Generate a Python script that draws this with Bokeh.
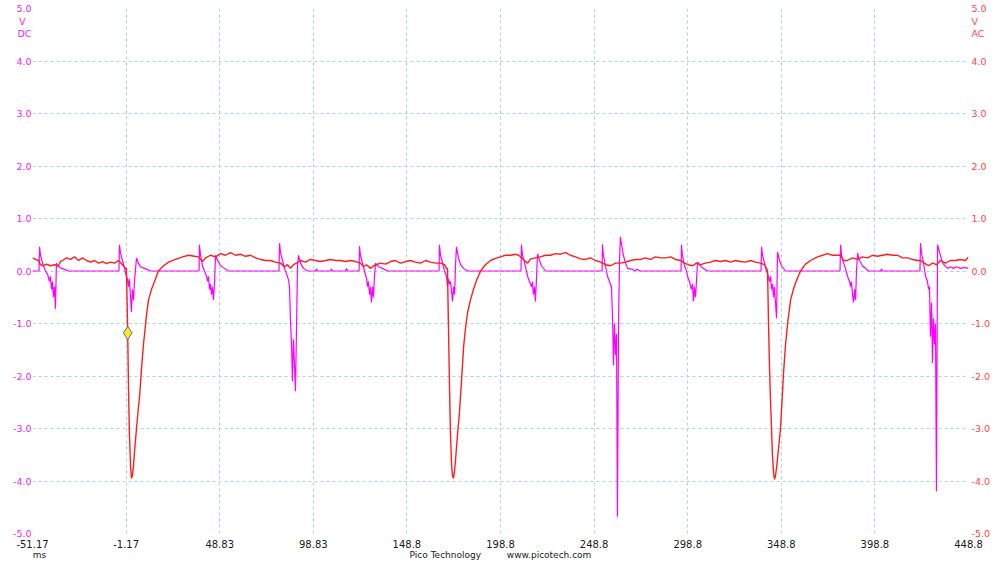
from bokeh.plotting import figure
from bokeh.models import Range1d, LinearAxis, FixedTicker, PrintfTickFormatter
from bokeh.embed import file_html
from bokeh.resources import INLINE

# ---------------- data (time in ms, voltage in V) ----------------
# Channel A (DC, magenta)
ch_a_time = [
    -51.17, -47.7, -47.4, -46.9, -45.8, -45.3, -44.2, -43.2, -42.1, -41.6, -41.0, -40.5, -40.0, -39.4, -38.9, -38.4, -37.8, -36.2, -34.1, -31.9,
    -5.0, -4.7, -4.2, -3.1, -2.0, -1.0, -0.4, 0.1, 0.6, 1.2, 1.7, 2.2, 2.8, 3.3, 4.4, 5.4, 6.5, 8.7, 11.9,
    37.8, 38.0, 38.6, 39.6, 40.7, 41.8, 42.3, 42.8, 43.4, 43.9, 44.4, 45.0, 45.5, 46.1, 46.6, 47.7, 49.3, 51.4, 53.5,
    80.5, 80.8, 81.3, 82.4, 83.4, 84.5, 85.6, 86.1, 86.6, 87.2, 87.7, 88.2, 88.8, 89.3, 89.9, 90.4, 90.9, 92.0, 93.6, 95.7, 100.0, 100.5, 101.1, 108.0, 108.6, 109.1, 116.0, 116.6, 117.1,
    123.3, 123.5, 124.0, 125.1, 126.2, 127.3, 127.8, 128.3, 128.9, 129.4, 129.9, 130.5, 131.0, 131.5, 132.1, 133.7, 135.8, 138.5,
    166.0, 166.2, 166.8, 167.9, 168.9, 170.0, 170.5, 171.0, 171.6, 172.1, 172.7, 173.2, 173.7, 174.3, 174.8, 175.3, 176.4, 177.5, 179.1, 181.2,
    209.8, 210.0, 210.6, 211.7, 212.7, 213.3, 214.3, 215.4, 215.9, 216.4, 217.0, 217.5, 218.1, 218.6, 219.7, 220.7, 222.9,
    253.1, 253.3, 253.8, 254.9, 256.0, 257.0, 258.1, 258.7, 259.2, 259.7, 260.3, 260.8, 261.3, 261.9, 262.4, 262.9, 263.5, 264.5, 265.6, 266.7, 269.4, 271.0, 271.5, 273.6, 275.2,
    295.3, 295.5, 296.0, 297.1, 298.2, 298.7, 299.8, 300.8, 301.4, 301.9, 302.4, 303.0, 303.5, 304.1, 305.1, 306.7, 309.4,
    338.0, 338.3, 338.8, 339.9, 340.9, 341.5, 342.5, 343.1, 343.6, 344.1, 344.7, 345.2, 345.7, 346.3, 346.8, 347.9, 348.9, 351.1,
    380.2, 380.5, 381.0, 382.1, 383.1, 384.2, 385.3, 385.8, 386.3, 386.9, 387.4, 388.0, 388.5, 389.0, 389.6, 390.6, 392.2, 395.4, 401.8, 402.4, 402.9,
    422.9, 423.2, 423.7, 424.8, 425.9, 426.9, 427.5, 428.0, 428.5, 429.1, 429.6, 430.1, 430.7, 431.2, 431.7, 432.3, 433.4, 435.0, 437.6, 439.2, 440.8, 442.4, 444.6, 446.7, 448.83,
]
ch_a_volts = [
    0.0, 0.0, 0.46, 0.3, 0.15, 0.1, 0.0, -0.05, -0.2, -0.1, -0.35, -0.2, -0.5, -0.3, -0.72, 0.15, 0.1, 0.06, 0.03, 0.0,
    0.0, 0.5, 0.35, 0.2, 0.05, -0.1, -0.17, -0.3, -0.15, -0.5, -0.78, -0.35, -0.55, -0.2, 0.25, 0.15, 0.08, 0.05, 0.0,
    0.0, 0.5, 0.3, 0.1, 0.0, -0.1, -0.2, -0.1, -0.35, -0.25, -0.45, -0.3, -0.55, -0.2, 0.3, 0.2, 0.1, 0.05, 0.0,
    0.0, 0.53, 0.35, 0.2, 0.05, -0.05, -0.17, -0.3, -0.9, -1.4, -2.1, -1.3, -1.8, -2.29, -1.0, 0.1, 0.3, 0.15, 0.05, 0.0, 0.0, 0.04, 0.0, 0.0, 0.04, 0.0, 0.0, 0.05, 0.0,
    0.0, 0.47, 0.3, 0.15, 0.0, -0.15, -0.3, -0.2, -0.45, -0.3, -0.6, -0.3, -0.5, -0.1, 0.15, 0.08, 0.05, 0.0,
    0.0, 0.5, 0.3, 0.15, 0.0, -0.1, -0.3, -0.15, -0.25, -0.2, -0.4, -0.58, -0.3, -0.45, 0.1, 0.46, 0.25, 0.12, 0.05, 0.0,
    0.0, 0.5, 0.3, 0.15, 0.0, -0.1, -0.2, -0.3, -0.2, -0.45, -0.3, -0.58, -0.1, 0.33, 0.2, 0.1, 0.0,
    0.0, 0.51, 0.3, 0.1, -0.1, -0.2, -0.3, -0.9, -1.8, -1.0, -1.6, -1.2, -4.68, -1.0, 0.2, 0.65, 0.5, 0.3, 0.15, 0.05, 0.03, 0.0, 0.03, 0.0, 0.0,
    0.0, 0.5, 0.3, 0.1, 0.0, -0.1, -0.2, -0.35, -0.25, -0.58, -0.3, -0.5, -0.2, 0.17, 0.12, 0.06, 0.0,
    0.0, 0.46, 0.3, 0.15, 0.0, -0.05, -0.2, -0.1, -0.35, -0.25, -0.5, -0.3, -0.6, -0.9, 0.36, 0.2, 0.1, 0.0,
    0.0, 0.5, 0.3, 0.15, 0.05, -0.1, -0.2, -0.3, -0.2, -0.45, -0.6, -0.35, -0.55, 0.0, 0.34, 0.2, 0.1, 0.0, 0.0, 0.04, 0.0,
    0.0, 0.53, 0.35, 0.15, -0.1, -0.2, -0.35, -0.3, -1.25, -0.6, -1.75, -0.9, -1.4, -1.0, -4.2, 0.5, 0.35, 0.15, 0.05, 0.08, 0.05, 0.08, 0.05, 0.07, 0.05,
]

# Channel B (AC, red)
ch_b_time = [
    -51.17, -49.6, -48.0, -46.9, -45.3, -43.7, -41.6, -39.4, -37.3, -36.2, -35.1, -33.0, -30.9, -28.7, -26.6, -24.5, -22.3, -20.2, -18.0, -15.9, -13.8, -11.6, -9.5, -7.4, -5.2, -3.1, -1.5,
    -1.0, -0.4, 0.1, 0.6, 1.2, 1.7, 2.2, 2.8, 3.3, 4.4, 5.4, 6.0, 7.1, 8.1, 8.7, 9.7, 10.8, 12.4, 14.0, 16.1, 18.8, 21.5, 25.2, 29.0, 32.2, 35.4, 37.5,
    39.6, 41.3, 43.9, 46.6, 49.3, 51.9, 54.6, 57.3, 59.9, 62.6, 65.3, 68.0, 70.6, 73.3, 76.0, 78.6, 81.3, 83.4, 85.1, 86.6, 88.2, 89.9, 92.0, 94.7, 97.3, 100.0,
    102.7, 105.4, 108.0, 110.7, 113.4, 116.0, 118.7, 121.4, 124.0, 125.7, 127.3, 129.4, 131.0, 132.6, 134.7, 137.4, 140.1, 142.7, 145.4, 148.1, 150.8, 153.4,
    156.1, 158.8, 161.4, 164.1, 166.8, 168.9, 170.0,
    170.5, 171.0, 171.6, 172.1, 172.7, 173.2, 173.7, 174.3, 174.8, 175.9, 176.9, 178.0, 179.1, 180.1, 181.2, 182.8, 184.4, 186.0, 188.2, 190.8, 193.5, 196.2, 198.8, 201.5, 204.2, 206.8, 208.5,
    211.7, 213.3, 214.9, 217.5, 220.2, 222.9, 225.5, 228.2, 230.9, 233.6, 236.2, 238.9, 241.6, 244.2, 246.9, 249.6, 252.3, 254.9, 257.6, 260.3, 262.9, 265.6, 268.3, 271.0, 273.6, 276.3,
    279.0, 281.6, 284.3, 287.0, 289.7, 292.3, 295.0, 297.1, 299.2, 301.4, 303.5, 305.7, 308.3, 311.0, 313.7, 316.4, 319.0, 321.7, 324.4, 327.0, 329.7, 332.4, 335.0, 337.7, 339.9, 340.9,
    341.5, 342.0, 342.5, 343.1, 343.6, 344.1, 344.7, 345.2, 345.7, 346.3, 347.3, 348.4, 349.5, 350.0, 351.1, 352.2, 353.8, 355.3, 356.4, 359.1, 361.8, 364.4, 368.2, 370.9, 373.5, 376.2, 378.9,
    380.5, 382.1, 384.2, 386.9, 389.6, 392.2, 394.9, 397.6, 400.2, 402.9, 405.6, 408.2, 410.9, 413.6, 416.3, 418.9, 421.6, 423.2, 425.3, 427.5, 429.6, 431.7, 433.9, 436.5, 439.2, 441.9, 444.6, 447.2, 448.83,
]
ch_b_volts = [
    0.25, 0.22, 0.2, 0.12, 0.1, 0.13, 0.1, 0.12, 0.1, 0.18, 0.2, 0.25, 0.22, 0.27, 0.2, 0.25, 0.2, 0.17, 0.2, 0.15, 0.18, 0.14, 0.17, 0.15, 0.2, 0.12, 0.05,
    0.05, -1.0, -2.2, -3.1, -3.7, -3.95, -3.9, -3.7, -3.45, -3.0, -2.6, -2.4, -1.85, -1.4, -1.2, -0.85, -0.55, -0.35, -0.2, 0.0, 0.1, 0.17, 0.22, 0.27, 0.3, 0.28, 0.27,
    0.18, 0.25, 0.3, 0.27, 0.33, 0.3, 0.35, 0.3, 0.32, 0.28, 0.3, 0.25, 0.22, 0.2, 0.2, 0.17, 0.15, 0.08, 0.12, 0.05, 0.12, 0.15, 0.2, 0.17, 0.22, 0.2,
    0.18, 0.2, 0.22, 0.2, 0.2, 0.18, 0.2, 0.18, 0.15, 0.08, 0.12, 0.05, 0.1, 0.12, 0.15, 0.13, 0.18, 0.2, 0.15, 0.18, 0.2, 0.17,
    0.15, 0.2, 0.17, 0.15, 0.15, 0.12, 0.05,
    0.05, -1.0, -2.2, -3.1, -3.7, -3.9, -3.95, -3.8, -3.6, -3.1, -2.7, -2.1, -1.45, -1.1, -0.8, -0.55, -0.35, -0.18, 0.0, 0.12, 0.2, 0.24, 0.27, 0.3, 0.3, 0.32, 0.3,
    0.2, 0.15, 0.23, 0.25, 0.27, 0.3, 0.3, 0.33, 0.32, 0.35, 0.3, 0.27, 0.23, 0.22, 0.25, 0.2, 0.17, 0.12, 0.1, 0.15, 0.15, 0.17, 0.2, 0.22, 0.22, 0.25,
    0.22, 0.27, 0.25, 0.25, 0.27, 0.22, 0.2, 0.15, 0.12, 0.1, 0.15, 0.12, 0.15, 0.17, 0.2, 0.18, 0.2, 0.17, 0.2, 0.18, 0.17, 0.2, 0.17, 0.15, 0.12, 0.05,
    0.0, -1.0, -1.8, -2.5, -3.0, -3.5, -3.85, -3.97, -3.9, -3.75, -3.4, -3.0, -2.3, -1.95, -1.4, -1.0, -0.55, -0.35, -0.23, 0.0, 0.13, 0.2, 0.27, 0.3, 0.33, 0.3, 0.3,
    0.3, 0.2, 0.2, 0.25, 0.22, 0.27, 0.25, 0.3, 0.28, 0.3, 0.32, 0.3, 0.3, 0.25, 0.25, 0.22, 0.2, 0.2, 0.15, 0.1, 0.15, 0.12, 0.2, 0.15, 0.2, 0.2, 0.22, 0.2, 0.27,
]

# trigger marker
trigger_time = [-0.3]
trigger_volts = [-1.18]

x_tick_values = [-51.17, -1.17, 48.83, 98.83, 148.83, 198.83, 248.83, 298.83, 348.83, 398.83, 448.83]
x_tick_labels = ["-51.17", "-1.17", "48.83", "98.83", "148.8", "198.8", "248.8", "298.8", "348.8", "398.8", "448.8"]
y_tick_values = [-5, -4, -3, -2, -1, 0, 1, 2, 3, 4, 5]

# unit captions (drawn as extra tick labels under the top tick)
unit_rows = [4.76, 4.52]
left_units = ["V\u00a0\u00a0", "DC"]
right_units = ["V", "AC"]
caption_pos = [-47.43, 198.83]
caption_text = ["ms", "Pico Technology" + "\u00a0" * 9 + "www.picotech.com"]

# ---------------- styling ----------------
FONT = "DejaVu Sans"
MAG = "#ff00ff"
MAG_TXT = "#f028f0"
RED = "#ff1e1e"
RED_TXT = "#ff4646"
GRID = "#a8d6e3"
DARK = "#1a1a1a"

x0, x1 = x_tick_values[0], x_tick_values[-1]
y0, y1 = y_tick_values[0], y_tick_values[-1]

p = figure(width=1000, height=562, x_range=Range1d(x0, x1), y_range=Range1d(y0, y1),
           output_backend="svg", toolbar_location=None,
           min_border_left=32, min_border_right=32, min_border_top=8, min_border_bottom=28)
p.outline_line_color = None
p.background_fill_color = "white"
p.border_fill_color = "white"


def style_axis(ax, color, standoff, size="10px"):
    ax.axis_line_color = None
    ax.major_tick_line_color = None
    ax.minor_tick_line_color = None
    ax.major_tick_out = 0
    ax.major_tick_in = 0
    ax.minor_tick_out = 0
    ax.minor_tick_in = 0
    ax.major_label_standoff = standoff
    ax.major_label_text_font = FONT
    ax.major_label_text_font_size = size
    ax.major_label_text_color = color


# bottom axis
p.xaxis.ticker = FixedTicker(ticks=x_tick_values)
p.xaxis.major_label_overrides = dict(zip(x_tick_values, x_tick_labels))
style_axis(p.xaxis[0], DARK, 6)

# caption row under the time axis
cap_ax = LinearAxis(ticker=FixedTicker(ticks=caption_pos),
                    major_label_overrides=dict(zip(caption_pos, caption_text)))
style_axis(cap_ax, DARK, -1, "9px")
p.add_layout(cap_ax, "below")

# left axis (DC, magenta)
ly = p.yaxis[0]
ly.ticker = FixedTicker(ticks=y_tick_values + unit_rows)
ly.formatter = PrintfTickFormatter(format="%.1f")
ly.major_label_overrides = dict(zip(unit_rows, left_units))
style_axis(ly, MAG_TXT, 1, "9.5px")

# right axis (AC, red)
ry = LinearAxis(ticker=FixedTicker(ticks=y_tick_values + unit_rows),
                formatter=PrintfTickFormatter(format="%.1f"),
                major_label_overrides=dict(zip(unit_rows, right_units)))
style_axis(ry, RED_TXT, 3, "9.5px")
p.add_layout(ry, "right")

# grid
p.xgrid.ticker = FixedTicker(ticks=x_tick_values)
p.ygrid.ticker = FixedTicker(ticks=y_tick_values)
for g in (p.xgrid[0], p.ygrid[0]):
    g.grid_line_color = GRID
    g.grid_line_dash = "3 3"
    g.grid_line_width = 1

# traces
p.line(ch_a_time, ch_a_volts, line_color=MAG, line_width=1.2)
p.line(ch_b_time, ch_b_volts, line_color=RED, line_width=1.4)
p.scatter(trigger_time, trigger_volts, marker="diamond", size=13, fill_color="#ffee00",
          line_color="#5a66d8", line_width=1)

open("out.html", "w").write(file_html(p, INLINE))
